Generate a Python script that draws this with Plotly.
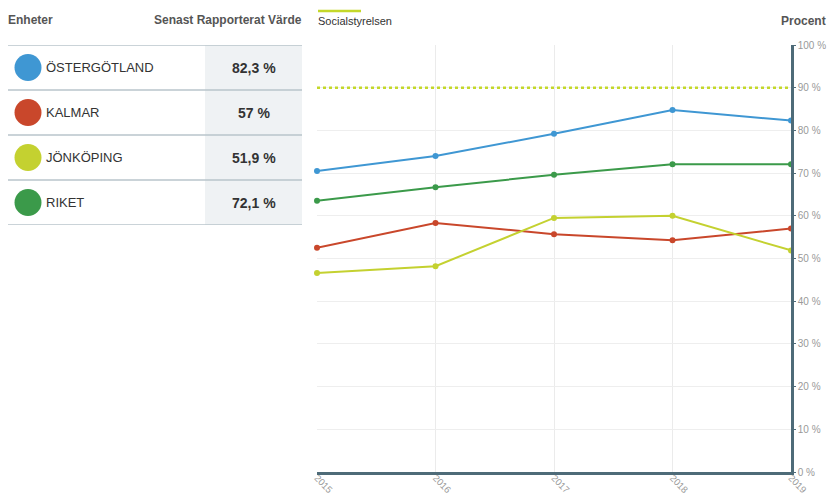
import plotly.graph_objects as go

# Data
years = [2015, 2016, 2017, 2018, 2019]
units = ["ÖSTERGÖTLAND", "KALMAR", "JÖNKÖPING", "RIKET"]
colors = ["#3f97d3", "#c9472b", "#c4d130", "#3b9a4a"]
series = {
    "ÖSTERGÖTLAND": [70.5, 74.0, 79.2, 84.8, 82.3],
    "KALMAR": [52.5, 58.3, 55.7, 54.3, 57.0],
    "JÖNKÖPING": [46.6, 48.2, 59.5, 60.0, 51.9],
    "RIKET": [63.5, 66.7, 69.6, 72.1, 72.1],
}
target_name = "Socialstyrelsen"
target_value = 90
target_color = "#c4d82a"
y_ticks = list(range(0, 101, 10))

W, H = 829, 494
axis_col = "#4e6b78"
grey_txt = "#555555"
FONT = "Liberation Sans, Arial, sans-serif"

fig = go.Figure()

# Target reference line
fig.add_trace(go.Scatter(
    x=years, y=[target_value] * len(years), mode="lines",
    line=dict(color=target_color, width=2.5, dash="dot"),
    hoverinfo="skip", showlegend=False,
))

# Series lines
for name, col in zip(units, colors):
    fig.add_trace(go.Scatter(
        x=years, y=series[name], mode="lines+markers", name=name,
        line=dict(color=col, width=2), marker=dict(color=col, size=6),
        cliponaxis=False, showlegend=False,
    ))

# Table: colored dots on a helper axis (x2 in pixel units, y2 = row index)
rows = list(range(len(units)))
fig.add_trace(go.Scatter(
    x=[28] * len(units), y=rows, mode="markers", xaxis="x2", yaxis="y2",
    marker=dict(color=colors, size=27, line=dict(width=0)),
    cliponaxis=False, hoverinfo="skip", showlegend=False,
))

shapes = []
annotations = []

def fmt(v):
    return f"{v:g}".replace(".", ",") + " %"

for i, name in enumerate(units):
    shapes.append(dict(type="rect", xref="x2", yref="y2", x0=205, x1=302,
                       y0=i - 0.5, y1=i + 0.5, fillcolor="#eff2f4",
                       line=dict(width=0), layer="below"))
    annotations.append(dict(xref="x2", yref="y2", x=44, y=i, text=name,
                            showarrow=False, xanchor="left", yanchor="middle",
                            font=dict(size=13, color="#333333")))
    annotations.append(dict(xref="x2", yref="y2", x=254, y=i,
                            text="<b>" + fmt(series[name][-1]) + "</b>",
                            showarrow=False, xanchor="center", yanchor="middle",
                            font=dict(size=14, color="#333333")))
for i in range(len(units) + 1):
    shapes.append(dict(type="line", xref="x2", yref="y2", x0=8, x1=302,
                       y0=i - 0.5, y1=i - 0.5,
                       line=dict(color="#b9c5cb", width=1.5)))

# Headers
annotations += [
    dict(xref="paper", yref="paper", x=6 / W, y=1 - 20 / H, text="<b>Enheter</b>",
         showarrow=False, xanchor="left", yanchor="middle",
         font=dict(size=12, color=grey_txt)),
    dict(xref="paper", yref="paper", x=304 / W, y=1 - 20 / H,
         text="<b>Senast Rapporterat Värde</b>", showarrow=False,
         xanchor="right", yanchor="middle", font=dict(size=12, color=grey_txt)),
    dict(xref="paper", yref="paper", x=316 / W, y=1 - 21 / H, text=target_name,
         showarrow=False, xanchor="left", yanchor="middle",
         font=dict(size=11, color="#333333")),
    dict(xref="paper", yref="paper", x=828 / W, y=1 - 21 / H, text="<b>Procent</b>",
         showarrow=False, xanchor="right", yanchor="middle",
         font=dict(size=12, color=grey_txt)),
]
shapes.append(dict(type="line", xref="paper", yref="paper",
                   x0=318 / W, x1=361 / W, y0=1 - 11 / H, y1=1 - 11 / H,
                   line=dict(color=target_color, width=2.5)))

fig.update_layout(
    width=W, height=H,
    margin=dict(l=0, r=0, t=0, b=0, autoexpand=False),
    paper_bgcolor="white", plot_bgcolor="white",
    font=dict(family=FONT),
    xaxis=dict(
        domain=[317 / W, 791 / W], range=[2015, 2019],
        tickmode="array", tickvals=years, ticktext=[str(y) for y in years],
        tickangle=45, tickfont=dict(size=9.5, color="#999999"),
        ticklabelstandoff=-6,
        showgrid=True, gridcolor="#ebebeb", gridwidth=1,
        showline=True, linecolor=axis_col, linewidth=2.5,
        zeroline=False, ticks="", automargin=False,
    ),
    yaxis=dict(
        domain=[(H - 472) / H, (H - 45) / H], range=[0, 100],
        side="right", anchor="x",
        tickmode="array", tickvals=y_ticks,
        ticktext=[f"{t} %" for t in y_ticks],
        tickfont=dict(size=10, color="#999999"),
        showgrid=True, gridcolor="#eeeeee", gridwidth=1,
        showline=True, linecolor=axis_col, linewidth=2.5,
        zeroline=False, ticks="outside", ticklen=2, tickcolor=axis_col,
        automargin=False,
    ),
    xaxis2=dict(domain=[0, 310 / W], range=[0, 310], visible=False,
                fixedrange=True, automargin=False),
    yaxis2=dict(domain=[(H - 225) / H, (H - 45) / H], range=[3.5, -0.5],
                visible=False, anchor="x2", fixedrange=True, automargin=False),
    shapes=shapes,
    annotations=annotations,
)

fig.write_html("out.html")
